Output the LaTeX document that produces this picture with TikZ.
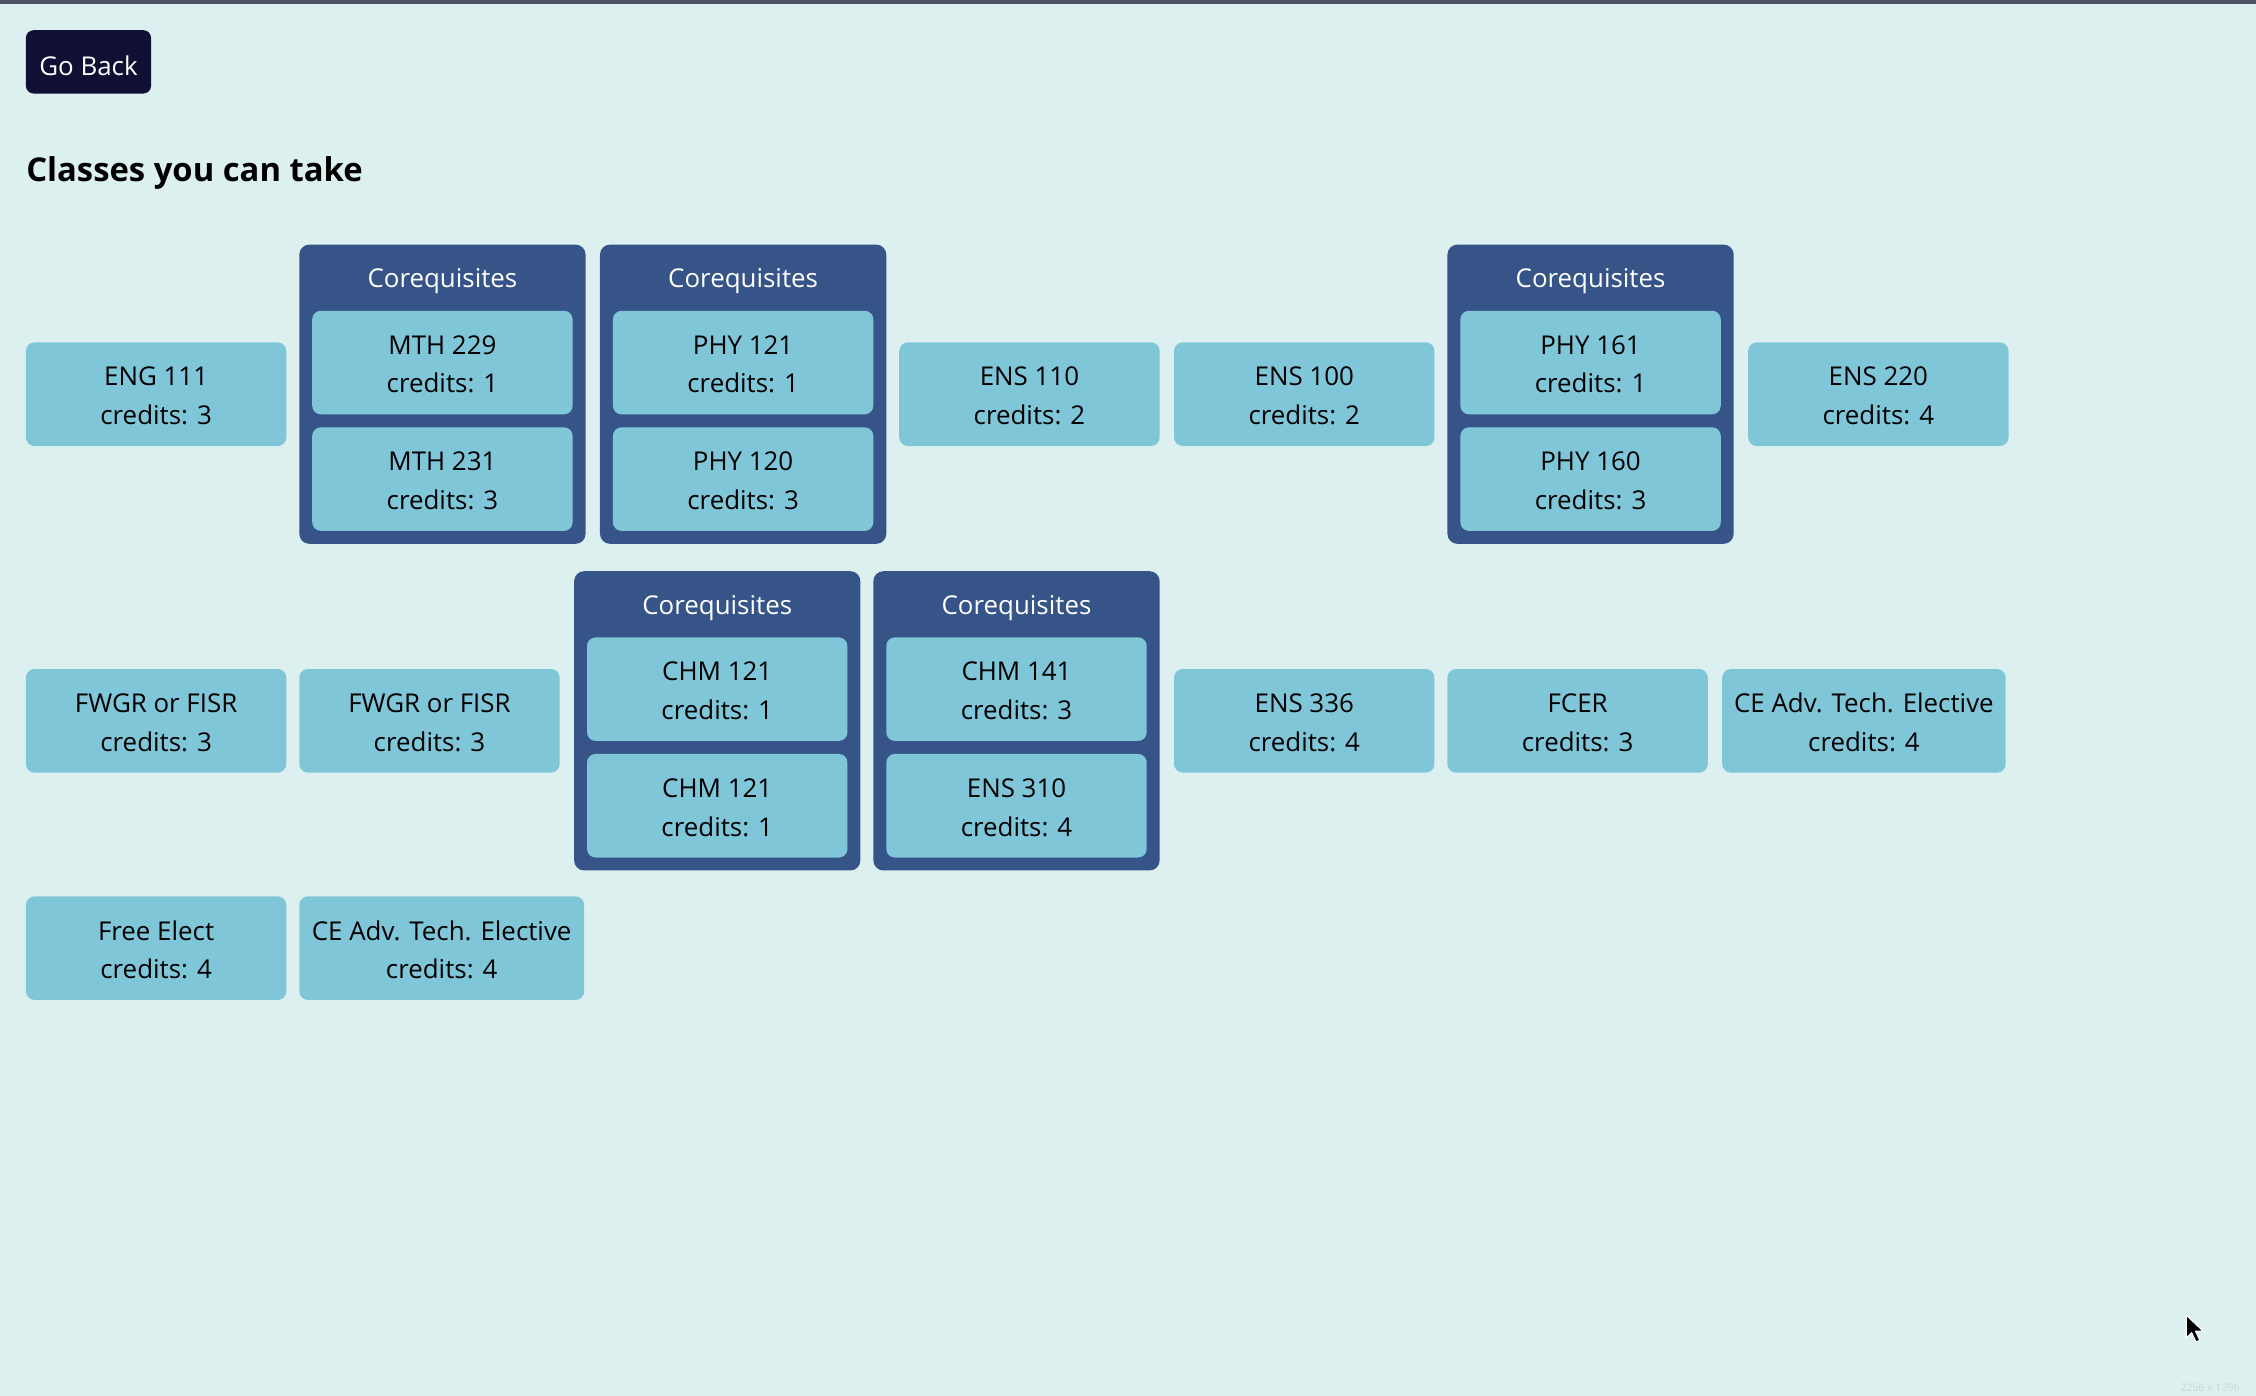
\documentclass[tikz,border=0pt]{standalone}
\usepackage{fontspec}
\setmainfont{Open Sans}
\definecolor{bg}{RGB}{220,241,239}
\definecolor{topbar}{RGB}{76,82,98}
\definecolor{navy}{RGB}{16,16,52}
\definecolor{outerblue}{RGB}{55,84,137}
\definecolor{innerblue}{RGB}{128,198,217}
\definecolor{wm}{RGB}{200,214,214}
\tikzset{
  coursebox/.style={rectangle, rounded corners=4.5pt, fill=innerblue,
    minimum width=#1*0.75pt, minimum height=54pt, inner sep=0pt},
  coursebox/.default=181,
  coursetext/.style={text=black, inner sep=0pt, align=center,
    font=\fontsize{13.5}{20.25}\selectfont},
  outerbox/.style={rectangle, rounded corners=5.25pt, fill=outerblue,
    minimum width=149.25pt, minimum height=156pt, inner sep=0pt},
  titletext/.style={text=white, inner sep=0pt, font=\fontsize{13.5}{16}\selectfont},
  gobtn/.style={rectangle, rounded corners=4pt, fill=navy,
    minimum width=65.25pt, minimum height=33pt, inner sep=0pt},
}
% name, x, y, width, title, credits
\newcommand\course[6]{%
  \node[coursebox=#4] (#1) at ({#2},{#3}) {};
  \node[coursetext] (#1-t) at ({#2},{#3+1.2}) {#5\\credits: #6};
}
\newcommand\coreqbox[7]{%
  \node[outerbox] (#1) at ({#2+99.5},{#3+104}) {};
  \node[titletext] (#1t) at ({#2+99.5},{#3+25.5}) {Corequisites};
  \course{#1a}{#2+99.5}{#3+82}{181}{#4}{#5}
  \course{#1b}{#2+99.5}{#3+163}{181}{#6}{#7}
}
\begin{document}
\begin{tikzpicture}[x=0.75pt,y=-0.75pt]
\fill[bg] (0,0) rectangle (1568,970);
\useasboundingbox (0,0) rectangle (1568,970);
\fill[topbar] (0,0) rectangle (1568,2.5);
% header
\node[gobtn] (goback) at (61.5,43) {};
\node[text=white, inner sep=0pt, font=\fontsize{13.5}{16}\selectfont] (goback-t) at (61.5,45.5) {Go Back};
\node[anchor=west, inner sep=0pt, font=\fontsize{17.1}{20}\selectfont\bfseries] (title) at (18,120.5) {Classes you can take};
% row 1
\course{eng111}{108.5}{274}{181}{ENG 111}{3}
\coreqbox{ca}{208}{170}{MTH 229}{1}{MTH 231}{3}
\coreqbox{cb}{417}{170}{PHY 121}{1}{PHY 120}{3}
\course{ens110}{715.5}{274}{181}{ENS 110}{2}
\course{ens100}{906.5}{274}{181}{ENS 100}{2}
\coreqbox{cc}{1006}{170}{PHY 161}{1}{PHY 160}{3}
\course{ens220}{1305.5}{274}{181}{ENS 220}{4}
% row 2
\course{fwgr1}{108.5}{501}{181}{FWGR or FISR}{3}
\course{fwgr2}{298.5}{501}{181}{FWGR or FISR}{3}
\coreqbox{cd}{399}{397}{CHM 121}{1}{CHM 121}{1}
\coreqbox{ce}{607}{397}{CHM 141}{3}{ENS 310}{4}
\course{ens336}{906.5}{501}{181}{ENS 336}{4}
\course{fcer}{1096.5}{501}{181}{FCER}{3}
\course{ceadv1}{1295.5}{501}{197}{CE Adv. Tech. Elective}{4}
% row 3
\course{free}{108.5}{659}{181}{Free Elect}{4}
\course{ceadv2}{307}{659}{198}{CE Adv. Tech. Elective}{4}
% cursor
\filldraw[fill=black, draw=white, line width=0.6pt, line join=round]
  (1519.5,914) -- (1519.5,930) -- (1523.3,926.3) -- (1526.3,932.8) -- (1529,931.6) -- (1526,925.2) -- (1531.3,925.2) -- cycle;
% watermark
\node[text=wm, inner sep=0pt, font=\fontsize{5.5}{6}\selectfont] (wmark) at (1536,964.5) {2256 x 1396};
\end{tikzpicture}
\end{document}
